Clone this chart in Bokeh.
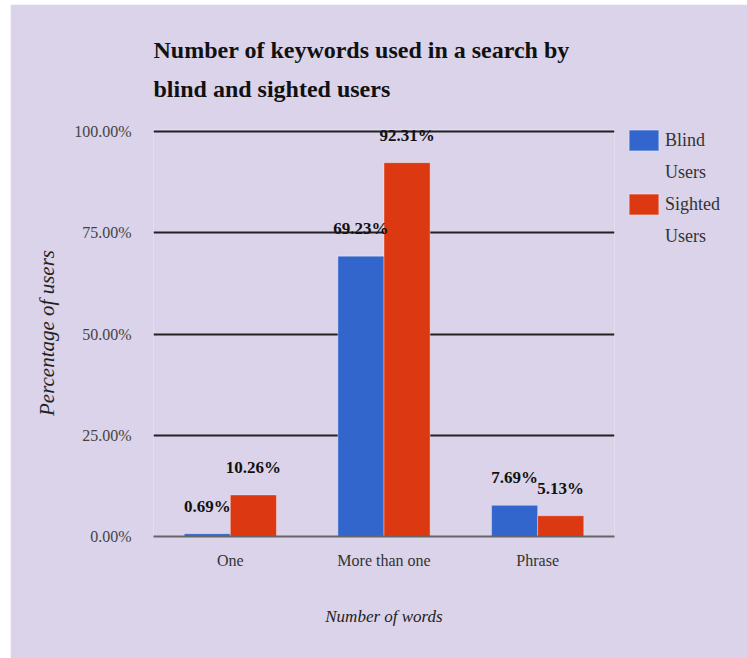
from bokeh.plotting import figure
from bokeh.models import (ColumnDataSource, FactorRange, Range1d, FixedTicker,
                          PrintfTickFormatter, LabelSet, Legend, LegendItem)
from bokeh.transform import dodge
from bokeh.embed import file_html
from bokeh.resources import INLINE

categories = ["One", "More than one", "Phrase"]
blind = [0.69, 69.23, 7.69]
sighted = [10.26, 92.31, 5.13]
blind_labels = ["0.69%", "69.23%", "7.69%"]
sighted_labels = ["10.26%", "92.31%", "5.13%"]
y_ticks = [0, 25, 50, 75, 100]

BG = "#dad3e9"
BLUE = "#3366cc"
RED = "#dc3912"
SERIF = "Liberation Serif"

src = ColumnDataSource(dict(cat=categories, blind=blind, sighted=sighted,
                            bl=blind_labels, sl=sighted_labels))

p = figure(x_range=FactorRange(*categories, range_padding=0),
           y_range=Range1d(0, 100.5),
           frame_width=461, frame_height=407,
           output_backend="svg", toolbar_location=None,
           min_border_left=143, min_border_right=133, min_border_top=125,
           min_border_bottom=122)
p.margin = (4, 0, 0, 10)
p.background_fill_color = BG
p.border_fill_color = BG
p.outline_line_color = None

rb = p.vbar(x=dodge("cat", -0.15, range=p.x_range), top="blind", width=0.3,
            source=src, fill_color=BLUE, line_color="#ffffff", line_alpha=0.35)
rs = p.vbar(x=dodge("cat", 0.15, range=p.x_range), top="sighted", width=0.3,
            source=src, fill_color=RED, line_color="#ffffff", line_alpha=0.35)

for col, lab, off in (("blind", "bl", -0.15), ("sighted", "sl", 0.15)):
    p.add_layout(LabelSet(x=dodge("cat", off, range=p.x_range), y=col, text=lab,
                          source=src, text_align="center",
                          text_baseline="alphabetic", y_offset=22,
                          text_font=SERIF, text_font_style="bold",
                          text_font_size="17px", text_color="#111111"))

# Title
p.title.text = "Number of keywords used in a search by\nblind and sighted users"
p.title.align = "left"
p.title.text_font = SERIF
p.title.text_font_style = "bold"
p.title.text_font_size = "24px"
p.title.text_line_height = 1.5
p.title.text_color = "#111111"
p.title.standoff = 55

# Y axis
p.yaxis.ticker = FixedTicker(ticks=y_ticks)
p.yaxis.formatter = PrintfTickFormatter(format="%.2f%%")
p.yaxis.axis_line_color = None
p.yaxis.major_tick_line_color = None
p.yaxis.minor_tick_line_color = None
p.yaxis.major_label_text_font = SERIF
p.yaxis.major_label_text_font_size = "16px"
p.yaxis.major_label_text_color = "#444444"
p.yaxis.major_label_standoff = 16
p.yaxis.axis_label = "Percentage of users"
p.yaxis.axis_label_text_font = SERIF
p.yaxis.axis_label_text_font_style = "italic"
p.yaxis.axis_label_text_font_size = "21px"
p.yaxis.axis_label_text_color = "#222222"
p.yaxis.axis_label_standoff = 12

p.ygrid.grid_line_color = "#222222"
p.ygrid.grid_line_width = 2
p.xgrid.grid_line_color = None

# X axis
p.xaxis.axis_line_color = "#666666"
p.xaxis.axis_line_width = 2
p.xaxis.major_tick_line_color = None
p.xaxis.minor_tick_line_color = None
p.xaxis.major_label_text_font = SERIF
p.xaxis.major_label_text_font_size = "16px"
p.xaxis.major_label_text_color = "#333333"
p.xaxis.major_label_standoff = 9
p.xaxis.axis_label = "Number of words"
p.xaxis.axis_label_text_font = SERIF
p.xaxis.axis_label_text_font_style = "italic"
p.xaxis.axis_label_text_font_size = "17px"
p.xaxis.axis_label_text_color = "#222222"
p.xaxis.axis_label_standoff = 35

legend = Legend(items=[LegendItem(label="Blind", renderers=[rb]),
                       LegendItem(label="Users", renderers=[]),
                       LegendItem(label="Sighted", renderers=[rs]),
                       LegendItem(label="Users", renderers=[])],
                location=(11, 287), background_fill_alpha=0,
                border_line_color=None, padding=0, margin=0,
                glyph_width=37, glyph_height=26, label_standoff=3,
                spacing=6, label_text_font=SERIF, label_text_font_size="18px",
                label_text_color="#333333")
p.add_layout(legend, "right")

open("out.html", "w").write(file_html(p, INLINE))
